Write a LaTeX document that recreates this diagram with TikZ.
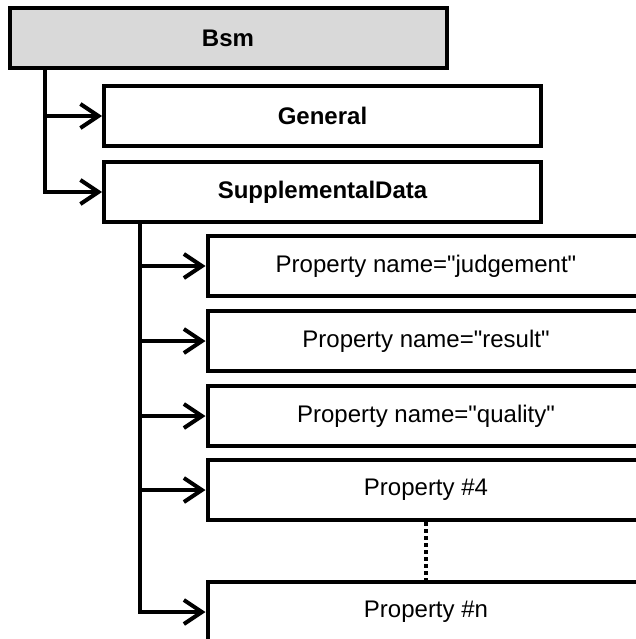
\documentclass[tikz,border=0pt]{standalone}
\usepackage{fontspec}
\setmainfont{Liberation Sans}
\usetikzlibrary{arrows.meta}

\begin{document}
\begin{tikzpicture}[x=1pt,y=-1pt,
    >={Straight Barb[length=18pt,width=24pt,line width=4pt]},
    elem/.style={draw,line width=4pt,minimum width=437pt,minimum height=60pt,
      inner sep=0pt,font=\fontsize{24}{28}\selectfont},
    root/.style={elem,fill=gray!30,font=\fontsize{24}{28}\selectfont\bfseries},
    child/.style={elem,font=\fontsize{24}{28}\selectfont\bfseries},
    link/.style={line width=4pt,->}]
  \clip (0,0) rectangle (636,639);
  % --- Wurzel und erste Ebene ---
  \node[root] (bsm) at (228,38) {Bsm};
  \node[child] (general) at (322.5,116) {General};
  \node[child] (supp) at (322.5,192) {SupplementalData};
  \draw[link] ([xshift=37pt]bsm.south west) |- (general.west);
  \draw[link] ([xshift=37pt]bsm.south west) |- (supp.west);
  % --- Properties ---
  \node[elem] (p1) at (426,266) {Property name=\textquotedbl judgement\textquotedbl};
  \node[elem] (p2) at (426,341) {Property name=\textquotedbl result\textquotedbl};
  \node[elem] (p3) at (426,416) {Property name=\textquotedbl quality\textquotedbl};
  \node[elem] (p4) at (426,490) {Property \#4};
  \node[elem] (pn) at (426,612) {Property \#n};
  \foreach \p in {p1,p2,p3,p4,pn}
    \draw[link] ([xshift=38pt]supp.south west) |- (\p.west);
  \draw[line width=3.5pt,dash pattern=on 4pt off 3pt] (p4.south) -- (pn.north);
\end{tikzpicture}
\end{document}
